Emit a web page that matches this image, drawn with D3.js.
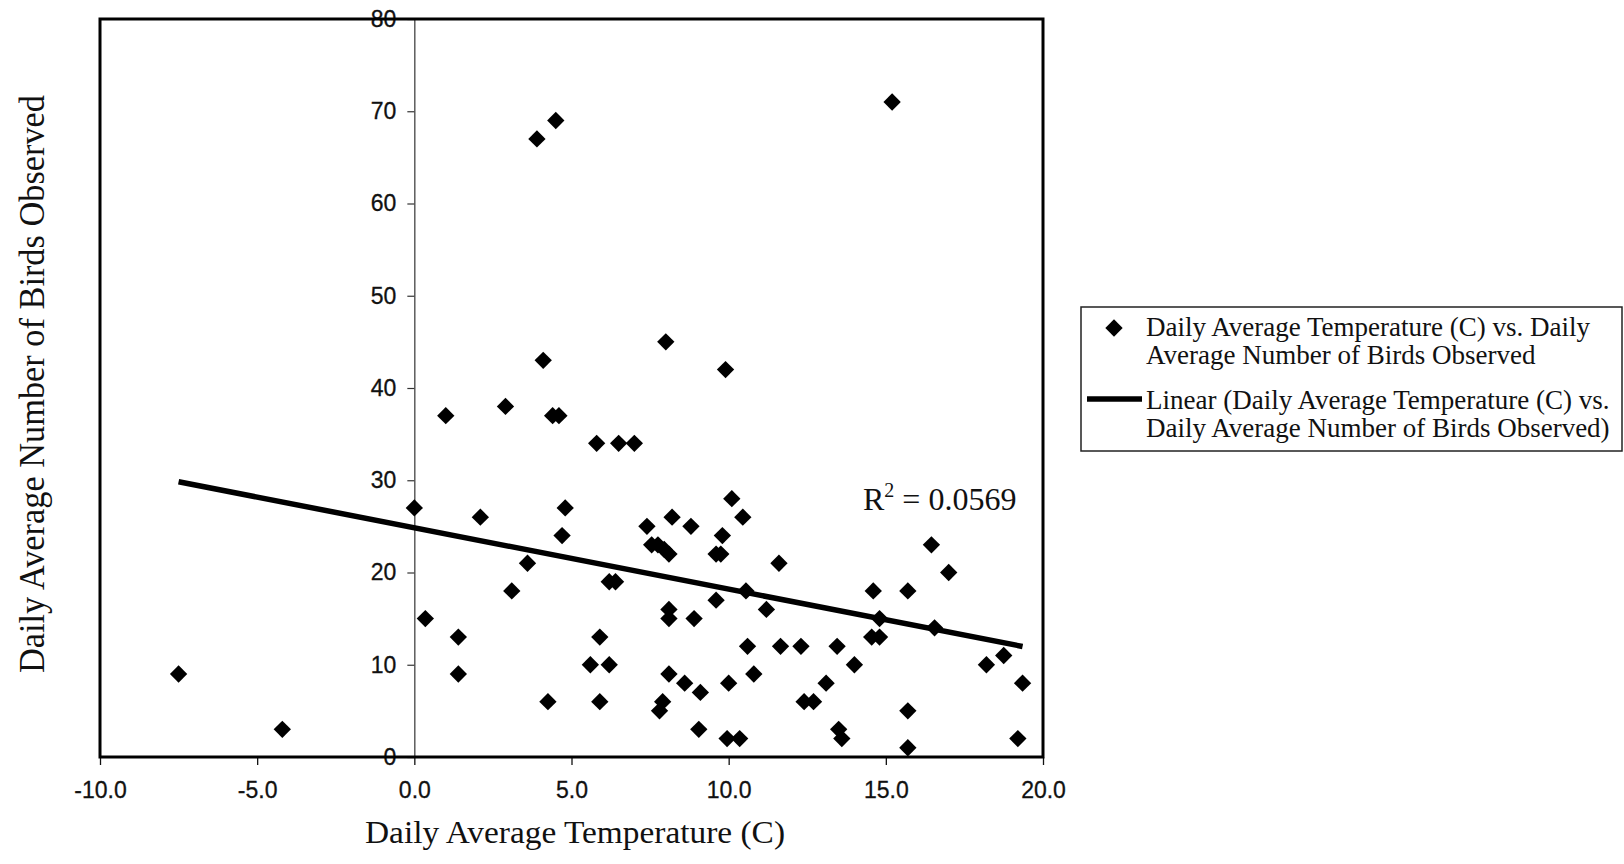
<!DOCTYPE html>
<html>
<head>
<meta charset="utf-8">
<script src="https://cdn.jsdelivr.net/npm/d3@7"></script>
<style>
  html, body { margin: 0; padding: 0; background: #fff; }
  svg { display: block; }
</style>
</head>
<body>
<div id="chart"></div>
<script>
// daily average temperature (C) and daily average birds observed
const temps = [
  -7.5, -4.2, 0.0, 0.35, 1.0, 1.4, 1.4, 2.1, 2.9, 3.1, 3.6, 3.9,
  4.1, 4.25, 4.4, 4.6, 4.5, 4.7, 4.8, 5.6, 5.8, 5.9, 5.9, 6.2,
  6.2, 6.4, 6.5, 7.0, 7.4, 7.55, 7.75, 7.95, 8.1, 7.8, 7.9, 8.0,
  8.1, 8.1, 8.1, 8.2, 8.6, 8.8, 8.9, 9.05, 9.1, 9.6, 9.6, 9.75,
  9.8, 9.9, 9.95, 10.0, 10.1, 10.35, 10.45, 10.55, 10.6, 10.8, 11.2, 11.6,
  11.65, 12.3, 12.4, 12.7, 13.1, 13.45, 13.5, 13.6, 14.0, 14.55, 14.6, 14.8,
  14.8, 15.2, 15.7, 15.7, 15.7, 16.45, 16.55, 17.0, 18.2, 18.75, 19.35, 19.2
];
const birds = [
  9, 3, 27, 15, 37, 13, 9, 26, 38, 18, 21, 67,
  43, 6, 37, 37, 69, 24, 27, 10, 34, 13, 6, 10,
  19, 19, 34, 34, 25, 23, 23, 22.5, 22, 5, 6, 45,
  16, 15, 9, 26, 8, 25, 15, 3, 7, 17, 22, 22,
  24, 42, 2, 8, 28, 2, 26, 18, 12, 9, 16, 21,
  12, 12, 6, 6, 8, 12, 3, 2, 10, 13, 18, 15,
  13, 71, 18, 5, 1, 23, 14, 20, 10, 11, 8, 2
];

const xTicks = [-10, -5, 0, 5, 10, 15, 20];
const yTicks = [0, 10, 20, 30, 40, 50, 60, 70, 80];

// linear trendline as printed on the chart
const trendSlope = -0.665;
const trendIntercept = 24.85;
const rSquaredText = "0.0569";

const legendItems = [
  ["Daily Average Temperature (C) vs. Daily", "Average Number of Birds Observed"],
  ["Linear (Daily Average Temperature (C) vs.", "Daily Average Number of Birds Observed)"]
];

const W = 1624, H = 864;
const box = { left: 100, right: 1043, top: 19, bottom: 757 };
const sansFont = "'Liberation Sans', Arial, sans-serif";
const serifFont = "'Liberation Serif', 'Times New Roman', serif";

const svg = d3.select("#chart")
  .append("svg")
  .attr("width", W)
  .attr("height", H);

svg.append("rect")
  .attr("width", W)
  .attr("height", H)
  .style("fill", "#fff");

const x = d3.scaleLinear().domain([-10, 20]).range([box.left, box.right]);
const y = d3.scaleLinear().domain([0, 80]).range([box.bottom, box.top]);

const points = temps.map((t, i) => ({ t: t, b: birds[i] }));

// x axis along the bottom of the box
const xAxis = svg.append("g")
  .attr("transform", `translate(0, ${box.bottom})`)
  .call(d3.axisBottom(x)
    .tickValues(xTicks)
    .tickFormat((d) => d.toFixed(1))
    .tickSize(8)
    .tickSizeOuter(0)
    .tickPadding(17));
xAxis.select(".domain").remove();
xAxis.selectAll(".tick line").style("stroke", "#111").style("stroke-width", 1.3);
xAxis.selectAll(".tick text")
  .style("font-family", sansFont)
  .style("font-size", "23px")
  .style("fill", "#111")
  .style("stroke", "#111")
  .style("stroke-width", 0.3);

// y axis crosses at x = 0
const yAxis = svg.append("g")
  .attr("transform", `translate(${x(0)}, 0)`)
  .call(d3.axisLeft(y)
    .tickValues(yTicks)
    .tickFormat(d3.format("d"))
    .tickSize(7)
    .tickSizeOuter(0)
    .tickPadding(11));
yAxis.select(".domain").style("stroke", "#333").style("stroke-width", 1.2);
yAxis.selectAll(".tick line").style("stroke", "#333").style("stroke-width", 1.2);
yAxis.selectAll(".tick text")
  .style("font-family", sansFont)
  .style("font-size", "23px")
  .style("fill", "#111")
  .style("stroke", "#111")
  .style("stroke-width", 0.3);

// plot frame
svg.append("rect")
  .attr("x", box.left)
  .attr("y", box.top)
  .attr("width", box.right - box.left)
  .attr("height", box.bottom - box.top)
  .style("fill", "none")
  .style("stroke", "#000")
  .style("stroke-width", 3);

// trendline over the data range
const tExtent = d3.extent(temps);
const line = d3.line()
  .x((d) => x(d))
  .y((d) => y(trendIntercept + trendSlope * d));

const diamond = d3.symbol().type(d3.symbolSquare).size(150);

svg.append("g")
  .selectAll("path")
  .data(points)
  .join("path")
  .attr("d", diamond)
  .attr("transform", (d) => `translate(${x(d.t)}, ${y(d.b)}) rotate(45)`)
  .style("fill", "#000");

svg.append("path")
  .datum(tExtent)
  .attr("d", line)
  .style("fill", "none")
  .style("stroke", "#000")
  .style("stroke-width", 5.5);

// R squared label
const r2 = svg.append("text")
  .attr("x", 863)
  .attr("y", 510)
  .style("font-family", serifFont)
  .style("font-size", "32px")
  .style("fill", "#111");
r2.append("tspan").text("R");
r2.append("tspan")
  .attr("dy", -13)
  .style("font-size", "20px")
  .text("2");
r2.append("tspan")
  .attr("dy", 13)
  .text(" = " + rSquaredText);

// axis titles
svg.append("text")
  .attr("x", 365)
  .attr("y", 843)
  .attr("textLength", 420)
  .attr("lengthAdjust", "spacingAndGlyphs")
  .style("font-family", serifFont)
  .style("font-size", "32px")
  .style("fill", "#111")
  .text("Daily Average Temperature (C)");

svg.append("text")
  .attr("transform", "translate(44, 673) rotate(-90)")
  .attr("textLength", 578)
  .attr("lengthAdjust", "spacingAndGlyphs")
  .style("font-family", serifFont)
  .style("font-size", "35px")
  .style("fill", "#111")
  .text("Daily Average Number of Birds Observed");

// legend
const legend = svg.append("g");
legend.append("rect")
  .attr("x", 1081)
  .attr("y", 307)
  .attr("width", 541)
  .attr("height", 144)
  .style("fill", "#fff")
  .style("stroke", "#222")
  .style("stroke-width", 1.5);

legend.append("path")
  .attr("d", diamond)
  .attr("transform", "translate(1114, 328) rotate(45)")
  .style("fill", "#000");

legend.append("line")
  .attr("x1", 1087)
  .attr("x2", 1142)
  .attr("y1", 399)
  .attr("y2", 399)
  .style("stroke", "#000")
  .style("stroke-width", 5.5);

const itemBaselines = [336, 409];
legendItems.forEach((lines, i) => {
  const txt = legend.append("text")
    .attr("x", 1146)
    .attr("y", itemBaselines[i])
    .style("font-family", serifFont)
    .style("font-size", "27px")
    .style("fill", "#111");
  lines.forEach((l, j) => {
    txt.append("tspan")
      .attr("x", 1146)
      .attr("dy", j === 0 ? 0 : 28)
      .text(l);
  });
});
</script>
</body>
</html>
